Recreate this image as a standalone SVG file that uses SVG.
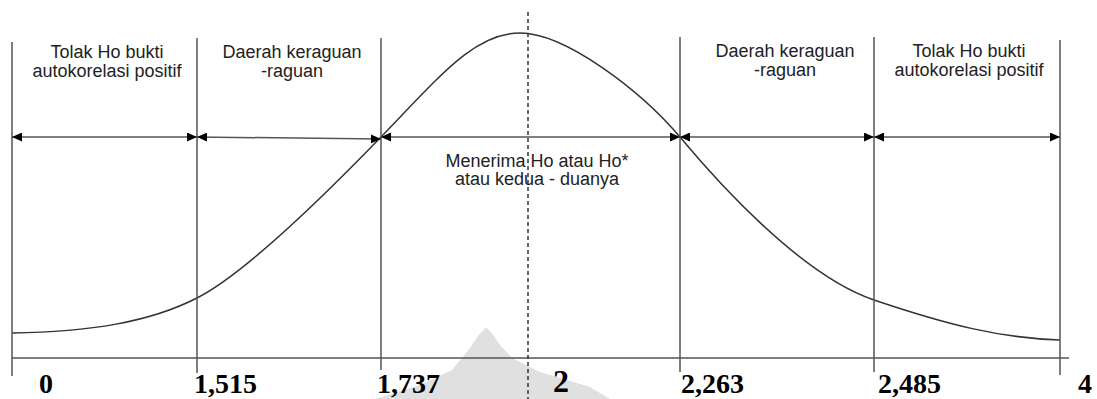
<svg xmlns="http://www.w3.org/2000/svg" width="1097" height="399" viewBox="0 0 1097 399">
<style>
.bg{fill:#ffffff}
.wm{fill:#e0e0e0}
.vl{stroke:#555;stroke-width:1.5;fill:none}
.ax{stroke:#555;stroke-width:1.5;fill:none}
.ar{stroke:#555;stroke-width:1.5;fill:none;marker-start:url(#ah);marker-end:url(#ah)}
.dash{stroke:#333;stroke-width:1.5;stroke-dasharray:4 3;fill:none}
.curve{stroke:#333;stroke-width:1.5;fill:none}
.t{font-family:"Liberation Sans",Arial,sans-serif;font-size:18px;fill:#222;text-anchor:middle}
.n{font-family:"Liberation Serif","Times New Roman",serif;font-size:28px;font-weight:bold;fill:#000}
</style>
<defs>
<marker id="ah" markerUnits="userSpaceOnUse" markerWidth="10" markerHeight="9" refX="10" refY="4.5" orient="auto-start-reverse">
<path d="M0,0 L10,4.5 L0,9 z" fill="#000"/>
</marker>
</defs>
<rect class="bg" x="0" y="0" width="1097" height="399"/>
<polygon class="wm" points="486,327 478,336 470,348 462,358 452,370 420,385 375,399 610,399 590,387 540,372 512,358 500,345 494,336"/>
<g id="curve">
<path class="curve" d="M12,333 C90,332 150,322 197,298 C244,274 320,200 381,137 C442,74 475,33 520,33 C565,33 640,90 680,137 C715,179 800,275 874,300 C948,325 1000,338 1060,340"/>
</g>
<g id="axis">
<line class="ax" x1="12" y1="358" x2="1069" y2="358"/>
</g>
<g id="dividers">
<line class="vl" x1="12" y1="42" x2="12" y2="376"/>
<line class="vl" x1="197" y1="38" x2="197" y2="373"/>
<line class="vl" x1="381" y1="38" x2="381" y2="370"/>
<line class="vl" x1="680" y1="37" x2="680" y2="372"/>
<line class="vl" x1="874" y1="37" x2="874" y2="372"/>
<line class="vl" x1="1060" y1="40" x2="1060" y2="375"/>
<line class="dash" x1="528" y1="12" x2="528" y2="399"/>
</g>
<g id="connectors">
<line class="ar" x1="12" y1="137" x2="197" y2="137"/>
<line class="ar" x1="197" y1="137" x2="381" y2="139"/>
<line class="ar" x1="381" y1="137" x2="680" y2="137"/>
<line class="ar" x1="680" y1="137" x2="874" y2="137"/>
<line class="ar" x1="874" y1="137" x2="1060" y2="137"/>
</g>
<g id="region-tolak-left">
<text class="t" x="107" y="58">Tolak Ho bukti</text>
<text class="t" x="107" y="77">autokorelasi positif</text>
</g>
<g id="region-ragu-left">
<text class="t" x="292" y="58">Daerah keraguan</text>
<text class="t" x="292" y="77">-raguan</text>
</g>
<g id="region-terima">
<text class="t" x="537" y="167">Menerima Ho atau Ho*</text>
<text class="t" x="537" y="185">atau kedua - duanya</text>
</g>
<g id="region-ragu-right">
<text class="t" x="785" y="57">Daerah keraguan</text>
<text class="t" x="785" y="76">-raguan</text>
</g>
<g id="region-tolak-right">
<text class="t" x="969" y="57">Tolak Ho bukti</text>
<text class="t" x="969" y="76">autokorelasi positif</text>
</g>
<g id="labels">
<text class="n" x="39" y="393">0</text>
<text class="n" x="194" y="393">1,515</text>
<text class="n" x="377" y="393">1,737</text>
<text class="n" x="553" y="392" style="font-size:32px">2</text>
<text class="n" x="681" y="393">2,263</text>
<text class="n" x="878" y="393">2,485</text>
<text class="n" x="1078" y="393">4</text>
</g>
</svg>
